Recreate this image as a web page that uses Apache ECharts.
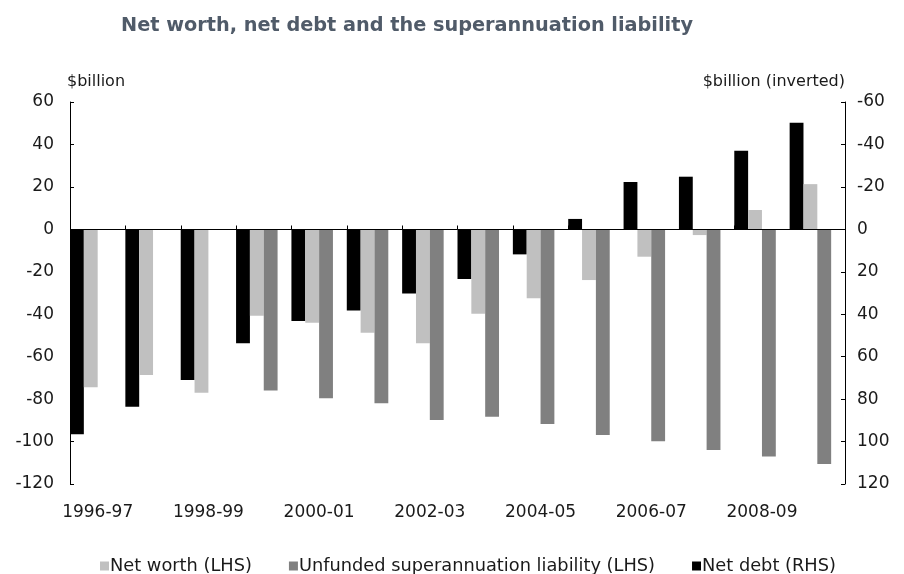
<!DOCTYPE html>
<html>
<head>
<meta charset="utf-8">
<script src="https://cdn.jsdelivr.net/npm/echarts@6/dist/echarts.min.js"></script>
<style>
  html, body { margin: 0; padding: 0; background: #ffffff; }
  #chart { width: 904px; height: 574px; }
</style>
</head>
<body>
<div id="chart"></div>
<script>
// Financial years shown on the category axis
var years = ['1996-97', '1997-98', '1998-99', '1999-00', '2000-01', '2001-02', '2002-03',
             '2003-04', '2004-05', '2005-06', '2006-07', '2007-08', '2008-09', '2009-10'];

// Net worth, $billion (left axis)
var netWorth = [-74.4, -68.6, -77.0, -40.7, -44.0, -48.7, -53.7,
                -39.8, -32.5, -23.9, -12.9, -2.7, 9.1, 21.3];

// Unfunded superannuation liability, $billion (left axis); no figures before 1999-00
var superLiability = [null, null, null, -76.0, -79.6, -82.0, -89.8,
                      -88.3, -91.7, -96.9, -99.9, -104.0, -107.1, -110.6];

// Net debt, $billion (right axis, inverted)
var netDebt = [96.6, 83.6, 71.0, 53.7, 43.2, 38.2, 30.2,
               23.4, 11.8, -4.9, -22.3, -24.8, -37.0, -50.2];

var FONT = 'DejaVu Sans, Verdana, sans-serif';
var TEXT = '#1a1a1a';

var chart = echarts.init(document.getElementById('chart'), null, { renderer: 'canvas' });

chart.setOption({
  animation: false,
  backgroundColor: '#ffffff',
  title: {
    text: 'Net worth, net debt and the superannuation liability',
    left: 116,
    top: 11,
    textStyle: {
      fontFamily: FONT,
      fontSize: 19.3,
      fontWeight: 'bold',
      color: '#505b69'
    }
  },
  legend: {
    left: 95,
    top: 552,
    itemWidth: 9,
    itemHeight: 9,
    itemGap: 37,
    icon: 'rect',
    data: ['Net worth (LHS)', 'Unfunded superannuation liability (LHS)', 'Net debt (RHS)'],
    textStyle: { fontFamily: FONT, fontSize: 17.8, color: TEXT, padding: [0, 0, 0, -4] }
  },
  grid: { left: 70, right: 59, top: 102, bottom: 90, containLabel: false },
  xAxis: [
    {
      // category axis carrying the bars, with the year labels along the foot
      type: 'category',
      data: years,
      position: 'bottom',
      axisLine: { show: false, onZero: false },
      axisTick: { show: false },
      axisLabel: {
        interval: 1,
        margin: 20,
        fontFamily: FONT,
        fontSize: 17,
        color: TEXT
      },
      splitLine: { show: false }
    }
  ],
  yAxis: [
    {
      type: 'value',
      min: -120,
      max: 60,
      interval: 20,
      position: 'left',
      name: '$billion',
      nameLocation: 'end',
      nameGap: 12,
      nameTextStyle: { fontFamily: FONT, fontSize: 16, color: TEXT, align: 'left', padding: [0, 0, 0, -3] },
      axisLine: { show: true, lineStyle: { color: '#000', width: 1 } },
      axisTick: { show: true, inside: true, length: 4, lineStyle: { color: '#000' } },
      axisLabel: { margin: 16, fontFamily: FONT, fontSize: 17, color: TEXT },
      splitLine: { show: false }
    },
    {
      type: 'value',
      min: -60,
      max: 120,
      interval: 20,
      inverse: true,
      position: 'right',
      name: '$billion (inverted)',
      nameLocation: 'start',
      nameGap: 12,
      nameTextStyle: { fontFamily: FONT, fontSize: 16, color: TEXT, align: 'right', padding: [0, 0, 0, 0] },
      axisLine: { show: true, lineStyle: { color: '#000', width: 1 } },
      axisTick: { show: true, inside: true, length: 4, lineStyle: { color: '#000' } },
      axisLabel: { margin: 12, fontFamily: FONT, fontSize: 17, color: TEXT },
      splitLine: { show: false }
    }
  ],
  series: [
    {
      name: 'Net debt (RHS)',
      type: 'bar',
      xAxisIndex: 0,
      yAxisIndex: 1,
      data: netDebt,
      barGap: '0%',
      barCategoryGap: '0%',
      itemStyle: { color: '#000000' }
    },
    {
      name: 'Net worth (LHS)',
      type: 'bar',
      xAxisIndex: 0,
      yAxisIndex: 0,
      data: netWorth,
      barGap: '0%',
      barCategoryGap: '0%',
      itemStyle: { color: '#c0c0c0' }
    },
    {
      name: 'Unfunded superannuation liability (LHS)',
      type: 'bar',
      xAxisIndex: 0,
      yAxisIndex: 0,
      data: superLiability,
      barGap: '0%',
      barCategoryGap: '0%',
      itemStyle: { color: '#808080' }
    },
    {
      // empty slot that keeps each year's bars to the left of its band
      name: 'spacer',
      type: 'bar',
      xAxisIndex: 0,
      yAxisIndex: 0,
      data: years.map(function () { return null; }),
      barGap: '0%',
      barCategoryGap: '0%',
      silent: true,
      itemStyle: { color: 'transparent' }
    }
  ]
});

// Zero line with a tick at every year boundary, placed through the axes' own scales
(function drawZeroLine() {
  var zeroY = chart.convertToPixel({ yAxisIndex: 0 }, 0);
  var c0 = chart.convertToPixel({ xAxisIndex: 0 }, years[0]);
  var c1 = chart.convertToPixel({ xAxisIndex: 0 }, years[1]);
  var band = c1 - c0;
  var xStart = c0 - band / 2;
  var xEnd = xStart + band * years.length;
  var y = Math.round(zeroY) + 0.5;

  var elements = [{
    type: 'line',
    zlevel: 1,
    z: 100,
    silent: true,
    shape: { x1: xStart, y1: y, x2: xEnd, y2: y },
    style: { stroke: '#000', lineWidth: 1 }
  }];
  for (var i = 0; i <= years.length; i++) {
    var x = Math.round(xStart + band * i) + 0.5;
    elements.push({
      type: 'line',
      zlevel: 1,
      z: 100,
      silent: true,
      shape: { x1: x, y1: y, x2: x, y2: y - 4 },
      style: { stroke: '#000', lineWidth: 1 }
    });
  }
  chart.setOption({ graphic: { elements: elements } });
})();
</script>
</body>
</html>
